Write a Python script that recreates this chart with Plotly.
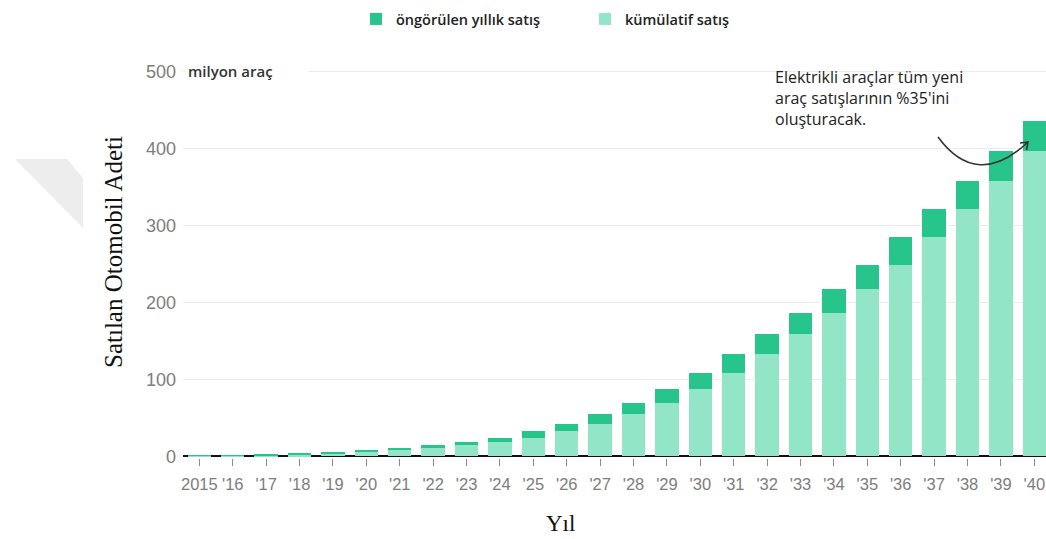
import plotly.graph_objects as go

# ---- data ----
years = ["2015", "'16", "'17", "'18", "'19", "'20", "'21", "'22", "'23", "'24", "'25", "'26", "'27",
         "'28", "'29", "'30", "'31", "'32", "'33", "'34", "'35", "'36", "'37", "'38", "'39", "'40"]
cumulative_sales = [0.7, 1.2, 1.8, 2.5, 3.5, 5.2, 7.8, 10.4, 14.3, 18.2, 24.6, 32.5, 41.6,
                    54.5, 69.2, 87.9, 108.7, 132.5, 158.8, 186.6, 216.9, 249.0, 284.8, 320.8, 357.5, 396.5]
annual_sales = [0.5, 0.6, 0.7, 1.0, 1.7, 2.6, 2.6, 3.9, 3.9, 6.4, 7.9, 9.1, 12.9,
                14.7, 18.7, 20.8, 23.8, 26.3, 27.8, 30.3, 32.1, 35.8, 36.0, 36.7, 39.0, 39.0]
y_ticks = [0, 100, 200, 300, 400, 500]

# ---- layout geometry ----
W, H = 1046, 539
ML, MR, MT, MB = 183, 0, 56, 81
PW, PH = W - ML - MR, H - MT - MB


def px(x):
    return (x - ML) / PW


def py(y):
    return (H - MB - y) / PH


DARK = "#27c48b"
LIGHT = "#93e5c8"

fig = go.Figure()
fig.add_trace(go.Bar(x=years, y=cumulative_sales, name="kümülatif satış",
                     marker=dict(color=LIGHT, line=dict(width=0))))
fig.add_trace(go.Bar(x=years, y=annual_sales, name="öngörülen yıllık satış",
                     marker=dict(color=DARK, line=dict(width=0))))

fig.update_layout(
    width=W, height=H,
    margin=dict(l=ML, r=MR, t=MT, b=MB, pad=0),
    paper_bgcolor="white", plot_bgcolor="white",
    barmode="stack", bargap=0.3,
    showlegend=True,
    legend=dict(orientation="h", traceorder="reversed",
                x=px(356), xanchor="left", y=py(19), yanchor="middle",
                font=dict(family="Open Sans", size=14.5, color="#222", weight=600),
                entrywidth=184, bgcolor="rgba(0,0,0,0)"),
    xaxis=dict(type="category", range=[-0.49, 25.35], showgrid=False, showline=False,
               zeroline=False, ticks="outside", ticklen=7, tickcolor="#8a8a8a", tickwidth=1,
               tickfont=dict(family="Liberation Sans", size=16.5, color="#7d7d7d"),
               ticklabelstandoff=4),
    yaxis=dict(range=[-2, 520], tickvals=y_ticks, ticktext=[str(v) for v in y_ticks],
               showgrid=True, gridcolor="#ececec", gridwidth=1,
               zeroline=True, zerolinecolor="#111", zerolinewidth=2,
               showline=False, ticks="",
               tickfont=dict(family="Liberation Sans", size=18, color="#7d7d7d"),
               ticklabelstandoff=6),
)

# unit label next to 500 (covers the start of the top gridline)
fig.add_annotation(xref="paper", yref="y", x=px(185), y=500, xanchor="left", yanchor="middle",
                   text="milyon araç", showarrow=False, align="left", width=118,
                   bgcolor="white", borderpad=2,
                   font=dict(family="Open Sans", size=15, color="#333", weight=600))

# axis titles
fig.add_annotation(xref="paper", yref="paper", x=px(113), y=py(252), text="Satılan Otomobil Adeti",
                   textangle=-90, showarrow=False, xanchor="center", yanchor="middle",
                   font=dict(family="Liberation Serif", size=25, color="#111"))
fig.add_annotation(xref="paper", yref="paper", x=px(560), y=py(523), text="Yıl",
                   showarrow=False, xanchor="center", yanchor="middle",
                   font=dict(family="Liberation Serif", size=23, color="#111"))

# callout text
fig.add_annotation(xref="paper", yref="paper", x=px(773), y=py(64), xanchor="left", yanchor="top",
                   text="Elektrikli araçlar tüm yeni<br>araç satışlarının %35'ini<br>oluşturacak.",
                   showarrow=False, align="left",
                   font=dict(family="Open Sans", size=16, color="#222"))

# curved arrow
p0 = (938, 137)
c = (977, 190)
p2 = (1028, 142)
a1 = (1020, 143)
a2 = (1026.5, 150)
path = (f"M {px(p0[0])},{py(p0[1])} Q {px(c[0])},{py(c[1])} {px(p2[0])},{py(p2[1])} "
        f"M {px(a1[0])},{py(a1[1])} L {px(p2[0])},{py(p2[1])} L {px(a2[0])},{py(a2[1])}")
fig.add_shape(type="path", xref="paper", yref="paper", path=path,
              line=dict(color="#333", width=1.6), layer="above")

# faint watermark shape at the left
wm = [(15, 159), (67, 159), (83, 178), (83, 228)]
wpath = "M " + " L ".join(f"{px(x)},{py(y)}" for x, y in wm) + " Z"
fig.add_shape(type="path", xref="paper", yref="paper", path=wpath,
              fillcolor="#ededed", line=dict(width=0), layer="below")

fig.write_html("out.html")
